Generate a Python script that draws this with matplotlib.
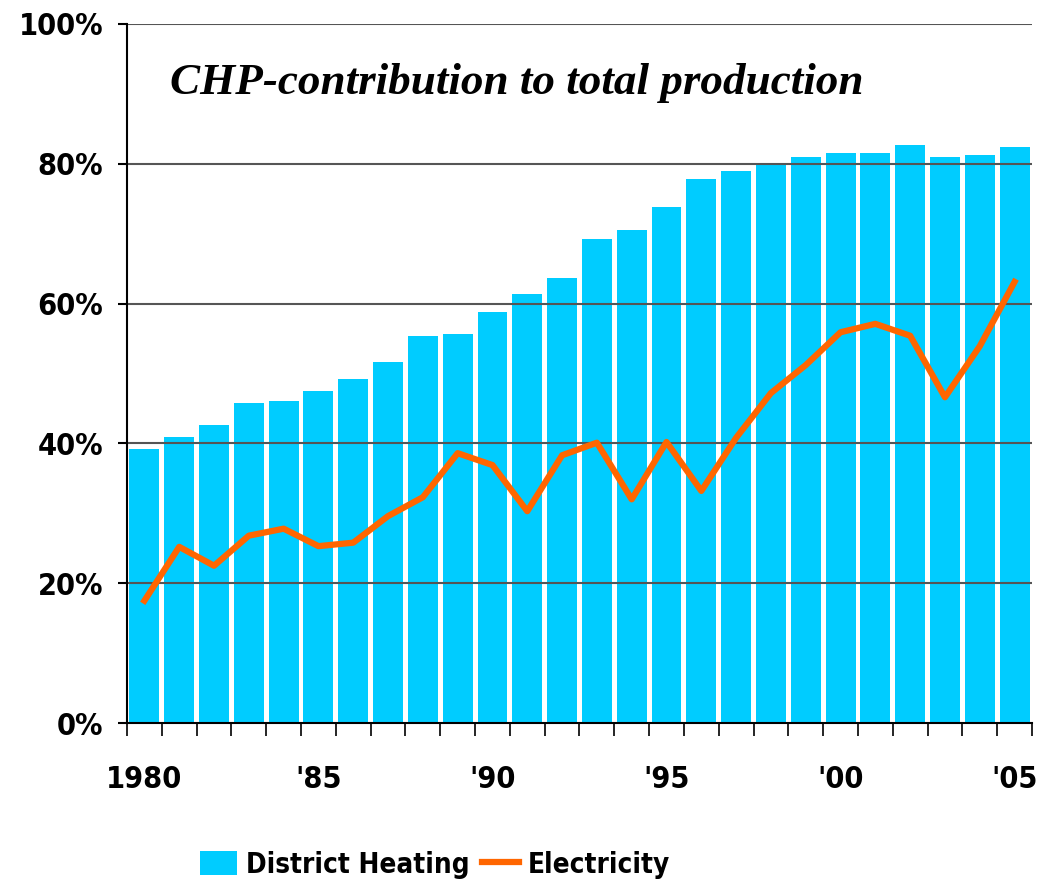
# CHP contribution to total production, 1980-2005
import numpy as np
import matplotlib.pyplot as plt
from matplotlib import font_manager

years = list(range(1980, 2006))
year_labels = ['1980', '', '', '', '', "'85", '', '', '', '', "'90", '', '', '', '',
               "'95", '', '', '', '', "'00", '', '', '', '', "'05"]

# District heating share (%)
district_heating = [39.2, 40.9, 42.6, 45.8, 46.1, 47.5, 49.2, 51.6, 55.4, 55.7,
                    58.8, 61.4, 63.7, 69.2, 70.5, 73.8, 77.8, 79.0, 80.1, 81.0,
                    81.5, 81.5, 82.7, 81.0, 81.3, 82.4]

# Electricity share (%)
electricity = [17.5, 25.2, 22.5, 26.8, 27.8, 25.3, 25.8, 29.6, 32.3, 38.6,
               36.9, 30.3, 38.3, 40.1, 32.0, 40.2, 33.2, 40.8, 47.2, 51.2,
               55.9, 57.1, 55.4, 46.6, 53.9, 63.1]

yticks = [0, 20, 40, 60, 80, 100]

# condensed DejaVu if installed, otherwise plain at a smaller size
condensed = any(f.name == 'DejaVu Sans' and f.stretch in ('condensed', 'semi-condensed')
                for f in font_manager.fontManager.ttflist)
stretch = 'condensed' if condensed else 'normal'
lab = dict(fontfamily='DejaVu Sans', fontweight='bold', fontstretch=stretch,
           fontsize=22 if condensed else 20)
leg_size = 20 if condensed else 18

fig = plt.figure(figsize=(10.48, 8.84), dpi=100)
ax = fig.add_axes([0.1212, 0.1821, 0.8635, 0.7908])

x = np.arange(len(years))
bars = ax.bar(x, district_heating, width=0.86, color='#00CCFF', zorder=1)
line, = ax.plot(x, electricity, color='#FF6600', lw=4.5, zorder=3)

for v in yticks[1:]:
    ax.axhline(v, color='#555555', lw=1.5, zorder=2)

ax.set_xlim(-0.5, len(years) - 0.5)
ax.set_ylim(0, 100)

ax.set_yticks(yticks)
ax.set_yticklabels([f'{v}%' for v in yticks], **lab)
ax.set_xticks(x)
ax.set_xticklabels(year_labels, **lab)
ax.tick_params(axis='x', length=0, pad=30)
ax.set_xticks(np.arange(-0.5, len(years)), minor=True)
ax.tick_params(axis='x', which='minor', length=9, width=1.2, direction='out')
ax.tick_params(axis='y', length=6.5, width=1.5, direction='out', pad=10.5)

for s in ['top', 'right']:
    ax.spines[s].set_visible(False)
ax.spines['left'].set_linewidth(1.5)
ax.spines['bottom'].set_linewidth(1.5)

ax.text(0.047, 0.915, 'CHP-contribution to total production', transform=ax.transAxes,
        fontfamily='Liberation Serif', fontweight='bold', fontstyle='italic',
        fontsize=32.5, va='center', ha='left')

fig.legend([bars, line], ['District Heating', 'Electricity'],
           loc='center left', bbox_to_anchor=(0.1908, 0.0215), ncol=2, frameon=False,
           borderpad=0, borderaxespad=0,
           prop={'family': 'DejaVu Sans', 'weight': 'bold', 'stretch': stretch,
                 'size': leg_size},
           handlelength=1.35, handletextpad=0.3, columnspacing=0.45, handleheight=0.95)

fig.savefig('out.png', dpi=100)
